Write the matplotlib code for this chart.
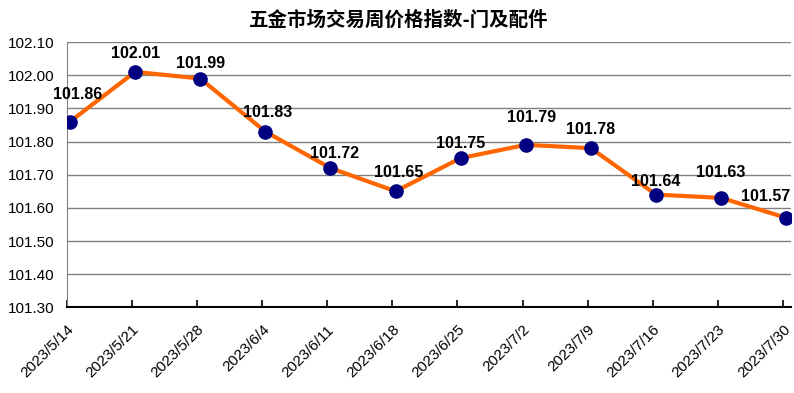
import numpy as np
import matplotlib
matplotlib.use("Agg")
import matplotlib.pyplot as plt

plt.rcParams['font.family'] = ['Liberation Sans', 'Noto Sans CJK SC', 'DejaVu Sans']

# data
dates = ["2023/5/14", "2023/5/21", "2023/5/28", "2023/6/4", "2023/6/11", "2023/6/18",
         "2023/6/25", "2023/7/2", "2023/7/9", "2023/7/16", "2023/7/23", "2023/7/30"]
values = [101.86, 102.01, 101.99, 101.83, 101.72, 101.65,
          101.75, 101.79, 101.78, 101.64, 101.63, 101.57]
title = "五金市场交易周价格指数-门及配件"

# label offsets in pixels (dx, dy)
lbl_dx = [8, 0, 0, 2, 4, 3, 0, 6, 0, 0, 0, -21]
lbl_dy = [27, 18, 15, 19, 15, 19, 15, 27, 19, 13, 25, 21]

fig = plt.figure(figsize=(7.94, 3.93), dpi=100)
ax = fig.add_axes([0.084, 0.218, 0.912, 0.675])

x = np.arange(len(values))
ax.plot(x, values, color='#FF6600', linewidth=3, zorder=2, solid_capstyle='round')
ax.plot(x, values, linestyle='none', marker='o', markersize=9.5,
        color='#000080', zorder=3)

for xi, v, dx, dy in zip(x, values, lbl_dx, lbl_dy):
    ax.annotate(f"{v:.2f}", (xi, v), xytext=(dx * 0.72, dy * 0.72),
                textcoords='offset points', ha='center', va='center',
                fontsize=11.5, fontweight='bold', color='black', zorder=4,
                annotation_clip=False)

ax.set_ylim(101.30, 102.10)
ax.set_yticks(np.arange(101.30, 102.101, 0.10))
ax.set_yticklabels([f"{t:.2f}" for t in np.arange(101.30, 102.101, 0.10)])
ax.set_xlim(-0.05, 11.07)
ax.set_xticks(x - 0.05)
ax.set_xticklabels(dates, rotation=45, ha='right', rotation_mode='anchor')

ax.grid(axis='y', color='#808080', linewidth=1)
ax.set_axisbelow(True)
ax.tick_params(axis='y', length=0, pad=9, labelsize=11)
ax.tick_params(axis='x', direction='in', length=5, width=1.2, color='black',
               pad=11, labelsize=11)

for s in ['top', 'right']:
    ax.spines[s].set_visible(False)
ax.spines['left'].set_color('#808080')
ax.spines['bottom'].set_color('black')
ax.spines['bottom'].set_linewidth(1.5)

fig.text(0.502, 0.95, title, ha='center', va='center', fontsize=14,
         fontweight='bold', family=['Noto Sans CJK SC', 'DejaVu Sans'])

fig.savefig("out.png", dpi=100)
